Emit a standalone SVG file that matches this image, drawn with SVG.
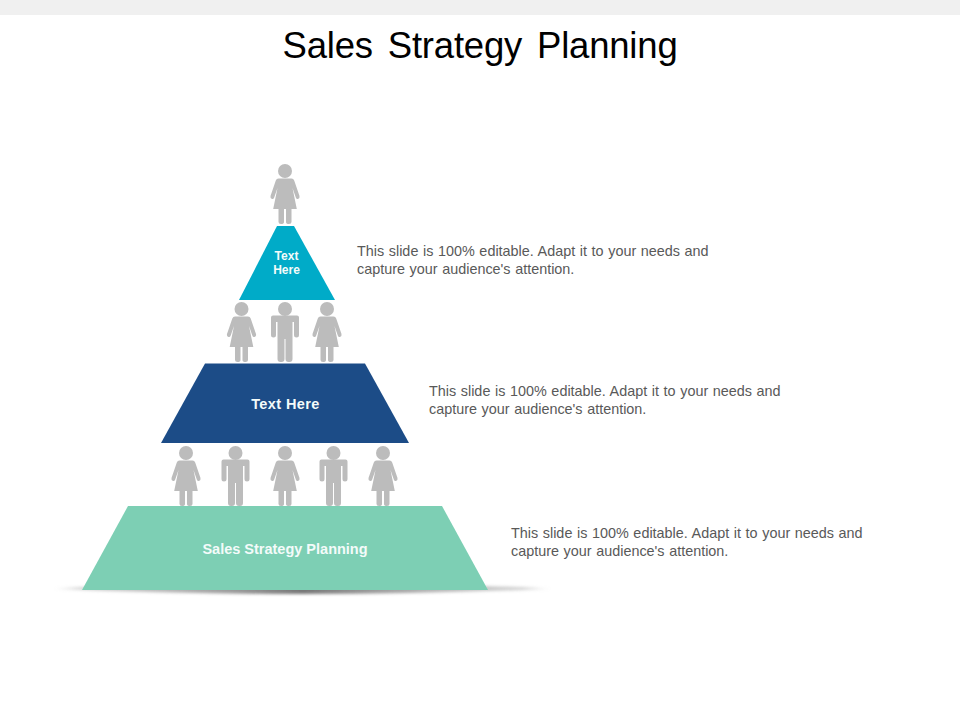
<svg xmlns="http://www.w3.org/2000/svg" width="960" height="720" viewBox="0 0 960 720">
<style>
text{font-family:"Liberation Sans",Arial,sans-serif}
.d{font-size:14.4px;word-spacing:.6px;fill:#595959}
.l{font-weight:700;fill:#f4fbfa;text-anchor:middle}
.p{fill:#bcbcbc}
</style>
<defs>
<linearGradient id="sh" x1="0" x2="1" y1="0" y2="0">
<stop offset="0" stop-color="#aaa" stop-opacity="0"/>
<stop offset="0.06" stop-color="#aaa" stop-opacity=".5"/>
<stop offset="0.3" stop-color="#8a8a8a" stop-opacity=".75"/>
<stop offset="0.5" stop-color="#777" stop-opacity="1"/>
<stop offset="0.7" stop-color="#8a8a8a" stop-opacity=".75"/>
<stop offset="0.94" stop-color="#aaa" stop-opacity=".5"/>
<stop offset="1" stop-color="#aaa" stop-opacity="0"/>
</linearGradient>
<filter id="bl" x="-5%" y="-100%" width="110%" height="300%"><feGaussianBlur stdDeviation="1.8"/></filter>
<symbol id="woman" overflow="visible">
<circle class="p" cx="0" cy="8" r="7"/>
<path class="p" d="M-6.500 15.500Q-8.500 15.500-9.200 17.500L-14.500 33Q-15 35.500-13 36Q-11.500 36.500-10.800 34.500L-7.500 25L-11.800 46H-6.500V59Q-6.500 61-4 61Q-1 61-1 59V46H1V59Q1 61 4 61Q6.500 61 6.500 59V46H11.800L7.500 25L10.800 34.500Q11.500 36.500 13 36Q15 35.500 14.500 33L9.200 17.500Q8.500 15.500 6.500 15.500Z"/>
</symbol>
<symbol id="man" overflow="visible">
<circle class="p" cx="0" cy="8" r="7"/>
<path class="p" d="M-12 14.500H12Q14 14.500 14 16.500V34Q14 36.500 11.500 36.500Q9 36.500 9 34V21H7.500V58Q7.500 61 4.500 61H3.500Q0.500 61 0.500 58V38H-0.500V58Q-0.500 61-3.500 61H-4.500Q-7.500 61-7.500 58V21H-9V34Q-9 36.500-11.500 36.500Q-14 36.500-14 34V16.500Q-14 14.500-12 14.500Z"/>
</symbol>
</defs>
<rect width="960" height="720" fill="#fff"/>
<rect width="960" height="15" fill="#f0f0f0"/>
<text id="title" x="480" y="58" font-size="36.500" text-anchor="middle" letter-spacing="-.2" word-spacing="5" fill="#000">Sales Strategy Planning</text>
<g id="connectors"/>
<g id="shadow"><path d="M53 589Q70 585 300 585Q530 585 552 589Q300 599 53 589Z" fill="url(#sh)" filter="url(#bl)"/></g>
<g id="tier-top">
<path d="M277 226H294L335 300H239Z" fill="#00abc8"/>
<text class="l" font-size="12" x="286.500" y="260">Text</text>
<text class="l" font-size="12" x="286.500" y="274">Here</text>
</g>
<g id="tier-middle">
<path d="M205 363.500H365L409 443H161Z" fill="#1c4c87"/>
<text class="l" font-size="14.500" letter-spacing=".4" x="285.500" y="409">Text Here</text>
</g>
<g id="tier-bottom">
<path d="M128 506H442L488 590H82Z" fill="#7dcfb4"/>
<text class="l" font-size="14.500" x="285" y="554">Sales Strategy Planning</text>
</g>
<g id="person-1"><use href="#woman" x="285" y="163"/></g>
<g id="person-2"><use href="#woman" x="241.500" y="301"/></g>
<g id="person-3"><use href="#man" x="285" y="301"/></g>
<g id="person-4"><use href="#woman" x="327" y="301"/></g>
<g id="person-5"><use href="#woman" x="186" y="445"/></g>
<g id="person-6"><use href="#man" x="235.500" y="445"/></g>
<g id="person-7"><use href="#woman" x="285" y="445"/></g>
<g id="person-8"><use href="#man" x="333.500" y="445"/></g>
<g id="person-9"><use href="#woman" x="383" y="445"/></g>
<g id="desc-1"><text class="d" x="357" y="256">This slide is 100% editable. Adapt it to your needs and</text><text class="d" x="357" y="274">capture your audience's attention.</text></g>
<g id="desc-2"><text class="d" x="429" y="396">This slide is 100% editable. Adapt it to your needs and</text><text class="d" x="429" y="414">capture your audience's attention.</text></g>
<g id="desc-3"><text class="d" x="511" y="538">This slide is 100% editable. Adapt it to your needs and</text><text class="d" x="511" y="556">capture your audience's attention.</text></g>
</svg>
